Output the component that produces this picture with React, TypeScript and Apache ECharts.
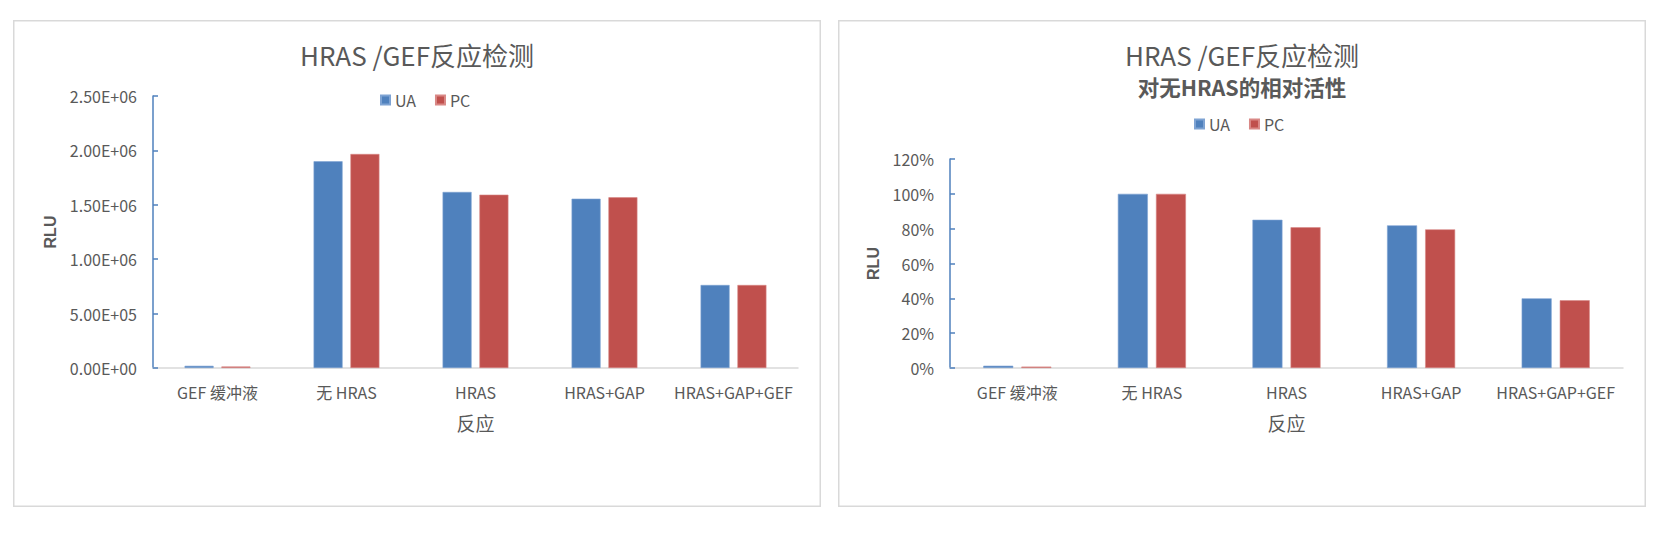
import React, { useEffect, useRef } from 'react';
import * as echarts from 'echarts';

const categories = ['GEF 缓冲液', '无 HRAS', 'HRAS', 'HRAS+GAP', 'HRAS+GAP+GEF'];
const seriesNames = ['UA', 'PC'];
const rluUA = [20000, 1900000, 1618000, 1556000, 763000];
const rluPC = [14000, 1967000, 1593000, 1569000, 763000];
const relUA = [1.3, 100, 85.1, 81.9, 40.0];
const relPC = [0.8, 100, 80.8, 79.6, 38.9];
const mainTitle = 'HRAS /GEF反应检测';
const subTitle = '对无HRAS的相对活性';
const yName = 'RLU';
const xName = '反应';

const FONT = '"Noto Sans CJK SC", "Noto Sans", sans-serif';
const TXT = '#595959';
const BLUE = '#4F81BD';
const RED = '#C0504D';

function sci(v: number): string {
  const [m, e] = v.toExponential(2).split('e');
  const sign = e[0];
  const d = e.slice(1).padStart(2, '0');
  return `${m}E${sign}${d}`;
}

function buildOption(opts: {
  sub: boolean;
  grid: { left: number; top: number; width: number; height: number };
  legend: { left: number; top: number };
  yNameGap: number;
  yMax: number;
  yInterval: number;
  yFormatter: (v: number) => string;
  ua: number[];
  pc: number[];
  barWidth: number;
}) {
  return {
    animation: false,
    backgroundColor: '#ffffff',
    textStyle: { fontFamily: FONT },
    graphic: [
      {
        type: 'rect',
        shape: { x: 0.75, y: 0.75, width: 806.5, height: 485.5 },
        style: { fill: 'none', stroke: '#D9D9D9', lineWidth: 1.5 },
        silent: true,
      },
    ],
    title: {
      text: mainTitle,
      subtext: opts.sub ? subTitle : '',
      left: 'center',
      top: 21,
      padding: 0,
      itemGap: 8,
      textStyle: { fontFamily: FONT, fontSize: 26, lineHeight: 26, fontWeight: 'normal', color: TXT },
      subtextStyle: { fontFamily: FONT, fontSize: 21.5, lineHeight: 22, fontWeight: 'bold', color: TXT },
    },
    legend: {
      data: seriesNames,
      left: opts.legend.left,
      top: opts.legend.top,
      padding: 0,
      icon: 'rect',
      itemWidth: 9,
      itemHeight: 9,
      itemGap: 19,
      textStyle: { fontFamily: FONT, fontSize: 16, color: TXT },
    },
    grid: { ...opts.grid, containLabel: false },
    xAxis: {
      type: 'category',
      data: categories,
      name: xName,
      nameLocation: 'middle',
      nameGap: 45,
      nameTextStyle: { fontFamily: FONT, fontSize: 19, color: TXT },
      axisLine: { show: true, lineStyle: { color: '#D9D9D9', width: 1.5 } },
      axisTick: { show: false },
      axisLabel: { margin: 16, fontSize: 16, color: TXT, fontFamily: FONT, interval: 0 },
      splitLine: { show: false },
    },
    yAxis: {
      type: 'value',
      min: 0,
      max: opts.yMax,
      interval: opts.yInterval,
      name: yName,
      nameLocation: 'middle',
      nameRotate: 90,
      nameGap: opts.yNameGap,
      nameTextStyle: { fontFamily: 'Arial, "Liberation Sans", sans-serif', fontSize: 16, fontWeight: 'bold', color: TXT },
      axisLine: { show: true, lineStyle: { color: BLUE, width: 1.5 } },
      axisTick: { show: true, inside: true, length: 5, lineStyle: { color: BLUE, width: 1.5 } },
      axisLabel: { margin: 16, fontSize: 16, color: TXT, fontFamily: FONT, formatter: opts.yFormatter },
      splitLine: { show: false },
    },
    series: [
      {
        name: seriesNames[0],
        type: 'bar',
        data: opts.ua,
        barWidth: opts.barWidth,
        barGap: '27%',
        itemStyle: { color: BLUE, borderColor: '#7EA3D3', borderWidth: 0.6 },
      },
      {
        name: seriesNames[1],
        type: 'bar',
        data: opts.pc,
        barWidth: opts.barWidth,
        barGap: '27%',
        itemStyle: { color: RED, borderColor: '#D98886', borderWidth: 0.6 },
      },
    ],
  };
}

function ChartBox({ option, style }: { option: any; style: React.CSSProperties }) {
  const ref = useRef<HTMLDivElement>(null);
  useEffect(() => {
    if (!ref.current) return;
    const chart = echarts.init(ref.current, undefined, { renderer: 'svg' });
    chart.setOption(option);
    return () => chart.dispose();
  }, [option]);
  return <div ref={ref} style={style} />;
}

const leftOption = buildOption({
  sub: false,
  grid: { left: 140, top: 76, width: 645, height: 272 },
  legend: { left: 367, top: 72 },
  yNameGap: 93,
  yMax: 2500000,
  yInterval: 500000,
  yFormatter: (v: number) => sci(v),
  ua: rluUA,
  pc: rluPC,
  barWidth: 29,
});

const rightOption = buildOption({
  sub: true,
  grid: { left: 112, top: 139, width: 673, height: 209 },
  legend: { left: 356, top: 96 },
  yNameGap: 66,
  yMax: 120,
  yInterval: 20,
  yFormatter: (v: number) => `${v}%`,
  ua: relUA,
  pc: relPC,
  barWidth: 30,
});

export default function App() {
  return (
    <div style={{ position: 'fixed', left: 0, top: 0, width: 1662, height: 534, background: '#ffffff' }}>
      <ChartBox option={leftOption} style={{ position: 'absolute', left: 13, top: 20, width: 808, height: 487 }} />
      <ChartBox option={rightOption} style={{ position: 'absolute', left: 838, top: 20, width: 808, height: 487 }} />
    </div>
  );
}
